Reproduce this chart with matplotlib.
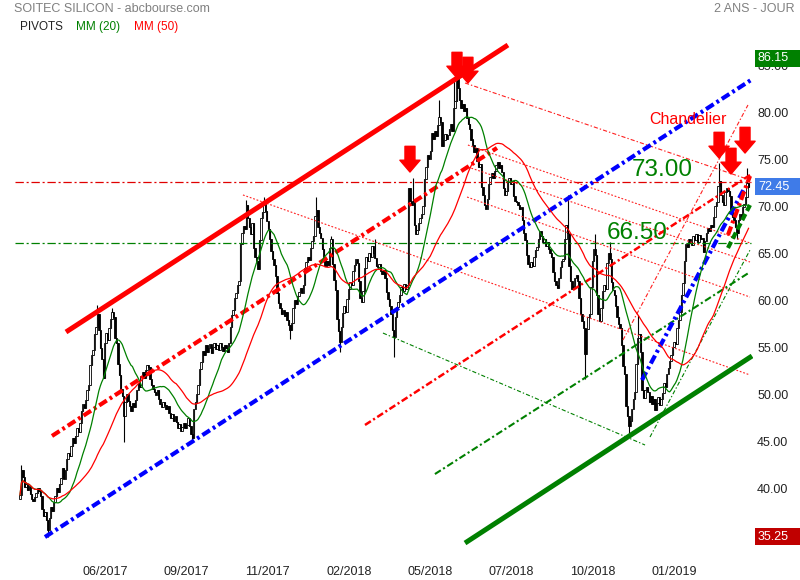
import numpy as np
import pandas as pd
import matplotlib
matplotlib.use('Agg')
import matplotlib.pyplot as plt
from matplotlib.patches import Rectangle
import matplotlib.transforms as mtransforms

plt.rcParams['font.family'] = ['Liberation Sans', 'DejaVu Sans']
plt.rcParams['lines.scale_dashes'] = False

# ---------------- data ----------------
title = 'SOITEC SILICON - abcbourse.com'
period_label = '2 ANS - JOUR'
legend_items = ['PIVOTS', 'MM (20)', 'MM (50)']

closes = [
    39.7, 42.3, 41.6, 40.5, 40.9, 40.2, 40.6, 39.8, 39.3, 39.0,
    39.5, 39.9, 40.4, 40.1, 39.6, 38.2, 37.5, 37.9, 37.0, 36.0,
    37.2, 38.4, 38.0, 38.9, 39.6, 40.4, 40.0, 40.8, 41.5, 42.6,
    41.4, 42.3, 43.5, 44.2, 43.8, 44.9, 45.7, 45.2, 46.0, 46.8,
    46.4, 47.3, 48.6, 49.4, 48.9, 49.8, 50.9, 51.4, 53.5, 54.6,
    55.1, 56.8, 57.6, 58.9, 57.2, 55.3, 54.2, 52.1, 55.8, 56.9,
    56.2, 57.5, 58.4, 59.1, 58.6, 56.4, 55.9, 53.6, 52.4, 51.0,
    50.2, 48.1, 49.6, 50.4, 49.7, 49.2, 48.6, 49.5, 49.0, 49.8,
    50.9, 51.6, 51.2, 52.3, 52.8, 52.1, 53.0, 53.5, 53.3, 52.0,
    51.4, 51.0, 50.6, 50.3, 50.8, 49.9, 49.4, 49.0, 49.6, 49.3,
    48.8, 49.2, 48.4, 47.9, 48.3, 47.6, 48.1, 47.5, 46.8, 47.2,
    46.5, 46.9, 47.3, 46.8, 47.1, 47.9, 47.0, 46.2, 45.7, 48.8,
    49.6, 50.4, 51.4, 53.1, 53.8, 55.0, 54.6, 55.6, 54.9, 55.3,
    55.7, 54.8, 55.4, 55.9, 55.2, 55.6, 55.1, 55.8, 55.4, 55.0,
    55.6, 55.3, 54.9, 55.9, 57.6, 58.8, 59.4, 60.6, 61.2, 62.0,
    62.5, 66.4, 67.6, 68.3, 68.0, 70.5, 69.1, 68.2, 67.5, 68.6,
    66.0, 65.0, 64.6, 63.7, 66.8, 69.2, 69.8, 70.6, 69.9, 68.8,
    68.0, 66.9, 65.6, 64.8, 64.2, 63.0, 61.2, 60.1, 59.6, 58.9,
    59.4, 58.7, 59.1, 58.3, 57.8, 57.2, 58.0, 59.6, 60.4, 60.0,
    60.9, 61.3, 61.7, 61.2, 62.0, 63.8, 64.5, 65.0, 64.7, 66.0,
    66.7, 67.2, 69.4, 70.0, 68.2, 67.6, 67.0, 65.8, 64.9, 64.0,
    64.6, 64.2, 66.0, 66.9, 64.3, 62.6, 61.5, 58.4, 57.1, 56.0,
    57.6, 59.0, 59.8, 59.2, 60.5, 61.6, 62.3, 62.0, 63.5, 64.2,
    64.8, 64.4, 62.5, 60.6, 60.2, 61.4, 63.8, 65.0, 64.6, 65.4,
    65.0, 66.2, 65.4, 64.9, 64.0, 63.9, 64.3, 63.5, 63.2, 63.6,
    62.8, 61.3, 60.5, 59.8, 58.9, 57.2, 56.5, 58.6, 59.7, 60.2,
    61.0, 61.8, 61.4, 62.1, 61.6, 62.0, 72.3, 71.0, 70.5, 70.9,
    68.4, 67.5, 67.9, 68.6, 69.2, 69.6, 70.4, 73.3, 74.6, 75.8,
    75.4, 76.3, 78.2, 77.6, 78.4, 77.9, 79.0, 79.9, 79.4, 76.8,
    77.5, 78.1, 77.6, 78.0, 78.6, 79.1, 78.4, 80.8, 81.6, 84.2,
    83.0, 81.7, 80.9, 81.3, 80.5, 80.9, 79.8, 79.2, 78.6, 77.5,
    76.9, 76.2, 76.6, 75.2, 74.6, 74.9, 72.4, 71.6, 70.5, 70.1,
    71.2, 72.8, 73.5, 73.9, 73.4, 74.2, 74.8, 75.1, 74.5, 74.8,
    74.0, 72.3, 71.6, 72.0, 73.0, 73.4, 72.8, 73.1, 71.5, 71.0,
    70.8, 70.5, 70.1, 70.3, 68.9, 67.6, 66.8, 65.2, 64.3, 63.9,
    64.5, 64.0, 65.0, 65.7, 66.1, 66.9, 67.8, 67.2, 66.6, 66.9,
    66.2, 66.6, 65.8, 65.4, 65.0, 63.4, 62.5, 62.0, 61.7, 62.8,
    63.9, 64.6, 64.8, 66.9, 68.4, 67.6, 64.0, 62.4, 61.6, 61.9,
    62.8, 63.1, 62.4, 60.6, 58.9, 58.2, 57.5, 54.7, 57.3, 58.6,
    58.9, 61.8, 64.6, 65.9, 65.2, 61.0, 58.9, 58.2, 59.6, 61.4,
    62.0, 61.6, 64.4, 65.4, 64.8, 62.3, 61.5, 61.0, 59.8, 58.6,
    57.9, 57.5, 55.6, 53.4, 52.6, 49.2, 48.1, 47.0, 47.6, 48.8,
    49.9, 50.6, 53.6, 56.4, 56.8, 54.9, 50.8, 50.0, 50.9, 51.2,
    50.6, 49.6, 50.2, 49.4, 49.9, 48.7, 49.5, 50.1, 49.3, 49.9,
    50.5, 51.6, 51.2, 52.6, 53.2, 53.9, 54.6, 55.4, 56.0, 55.7,
    57.4, 58.3, 59.2, 61.0, 62.2, 64.6, 66.4, 66.1, 66.9, 66.6,
    66.3, 67.2, 66.8, 67.4, 66.6, 67.3, 66.9, 67.0, 65.5, 66.7,
    67.6, 68.1, 67.8, 68.4, 68.2, 69.3, 70.4, 70.9, 72.6, 73.1,
    71.6, 70.8, 70.5, 71.9, 72.3, 72.0, 71.5, 69.8, 69.3, 68.9,
    68.2, 67.6, 68.9, 69.6, 69.2, 70.3, 70.6, 71.4, 72.9, 72.45,
]
first_open = 39.3
wick_highs = {1: 42.9, 53: 59.9, 63: 59.6, 155: 71.1, 167: 71.4, 203: 71.4,
              213: 67.2, 243: 66.9, 269: 73.4, 287: 81.7, 297: 83.9, 299: 86.15,
              375: 71.6, 394: 67.4, 404: 66.6, 423: 58.8, 479: 75.0, 498: 74.5}
wick_lows = {19: 35.25, 71: 45.3, 118: 45.4, 185: 56.3, 219: 54.9, 256: 54.4,
             387: 52.0, 417: 45.9, 491: 66.9}

period_high = 86.15
period_low = 35.25
last_close = 72.45

x_tick_labels = ['06/2017', '09/2017', '11/2017', '02/2018',
                 '05/2018', '07/2018', '10/2018', '01/2019']
y_ticks = [40, 45, 50, 55, 60, 65, 70, 75, 80, 85]

pivot_levels = [73.00, 66.50]
pivot_texts = ['73.00', '66.50']
pivot_text_pos = [(439.7, 74.26), (422.6, 67.55)]
chandelier_text = 'Chandelier'
chandelier_pos = (457.5, 79.6)

# trend lines: (bar, price) anchors
red_channel_top = [(31.5, 57.02), (334.2, 87.55)]
red_channel_mid = [(21.9, 45.96), (326.7, 76.60)]
blue_channel_low = [(17.1, 35.21), (500.7, 83.83)]
green_support = [(304.8, 34.57), (501.4, 54.47)]
blue_steep = [(426.0, 51.91), (496.6, 72.45)]
red_short = [(484.9, 67.34), (500.0, 73.62)]
green_short = [(484.9, 65.96), (500.0, 70.53)]
red_rising = [(236.3, 47.13), (500.0, 73.72)]
red_fan_a = [(304.8, 83.51), (500.0, 73.19)]
red_fan_b = [(152.7, 71.60), (500.0, 52.45)]
red_fan_c = [(306.8, 76.91), (500.0, 66.49)]
red_fan_d = [(306.2, 71.38), (500.0, 60.74)]
red_fan_e = [(306.8, 74.57), (500.0, 64.47)]
red_chandelier = [(413.0, 56.17), (498.6, 81.17)]
green_falling = [(248.6, 56.91), (428.1, 45.00)]
green_rising = [(284.2, 41.91), (500.0, 63.40)]
green_steep = [(431.5, 45.85), (500.0, 65.74)]

arrow_bars = [267.1, 299.3, 306.8, 478.8, 487.0, 496.6]
arrow_tips = [74.04, 84.04, 83.51, 75.53, 73.83, 76.06]

# ---------------- figure ----------------
W, H = 800, 580
fig = plt.figure(figsize=(W / 100, H / 100), dpi=100)
fig.patch.set_facecolor('white')
ax_l, ax_r, ax_t, ax_b = 12, 753, 40, 560
ax = fig.add_axes([ax_l / W, 1 - ax_b / H, (ax_r - ax_l) / W, (ax_b - ax_t) / H])
px_per_bar = 1.46
x0_px = 20
ax.set_xlim((ax_l - x0_px) / px_per_bar, (ax_r - x0_px) / px_per_bar)
ppu = 9.4
ax.set_ylim(80 - (ax_b - 116) / ppu, 80 + (116 - ax_t) / ppu)
for s in ax.spines.values():
    s.set_visible(False)

c = np.array(closes, dtype=float)
n = len(c)
idx = np.arange(n)
o = np.concatenate([[first_open], c[:-1]])
hi = np.maximum(o, c)
lo = np.minimum(o, c)
for k, v in wick_highs.items():
    hi[k] = max(hi[k], v)
for k, v in wick_lows.items():
    lo[k] = min(lo[k], v)

# candles
ax.vlines(idx, lo, hi, color='black', lw=0.8, zorder=2)
up = c >= o
body_h = np.maximum(np.abs(c - o), 0.08)
body_b = np.minimum(o, c)
ax.bar(idx[up], body_h[up], bottom=body_b[up], width=0.95,
       color='white', edgecolor='black', linewidth=0.6, zorder=2.1)
ax.bar(idx[~up], body_h[~up], bottom=body_b[~up], width=0.95,
       color='black', edgecolor='black', linewidth=0.6, zorder=2.1)

s = pd.Series(c)
ma20 = s.rolling(20, min_periods=1).mean()
ma50 = s.rolling(50, min_periods=1).mean()


def seg(pts, **kw):
    ax.plot([pts[0][0], pts[1][0]], [pts[0][1], pts[1][1]], **kw)


RED = '#ff0000'
GREEN = '#008000'
BLUE = '#0000ff'
# pivot horizontals
ax.plot([-3.4, 500.7], [pivot_levels[0]] * 2, color='#e00000', lw=0.9,
        dashes=(6, 2, 1.5, 2), zorder=3)
ax.plot([-3.4, 500.7], [pivot_levels[1]] * 2, color=GREEN, lw=0.9,
        dashes=(6, 2, 1.5, 2), zorder=3)

# thin fan lines
for L in [red_fan_b, red_fan_c, red_fan_d, red_fan_e]:
    seg(L, color='#ff2020', lw=0.8, dashes=(1.3, 1.3), zorder=3)
seg(red_fan_a, color='#ff2020', lw=0.8, dashes=(3, 1.5, 1, 1.5), zorder=3)
seg(red_chandelier, color='#ff2020', lw=0.8, dashes=(3, 1.5, 1, 1.5), zorder=3)
seg(green_falling, color=GREEN, lw=0.8, dashes=(3, 1.5, 1, 1.5), zorder=3)
seg(green_steep, color=GREEN, lw=0.8, dashes=(3, 1.5, 1, 1.5), zorder=3)
seg(green_rising, color=GREEN, lw=1.5, dashes=(5, 2, 1.5, 2), zorder=3)
seg(red_rising, color=RED, lw=1.8, dashes=(5, 2, 1.5, 2), zorder=3)

# thick channel lines
seg(red_channel_top, color=RED, lw=3.6, solid_capstyle='butt', zorder=3.5)
seg(green_support, color=GREEN, lw=3.6, solid_capstyle='butt', zorder=3.5)
seg(red_channel_mid, color=RED, lw=3.0, dashes=(6.5, 2.5, 2, 2.5), zorder=3.5)
seg(blue_channel_low, color=BLUE, lw=3.0, dashes=(6.5, 2.5, 2, 2.5), zorder=3.5)
seg(blue_steep, color=BLUE, lw=3.0, dashes=(6.5, 2.5, 2, 2.5), zorder=3.5)
seg(red_short, color=RED, lw=3.0, dashes=(6.5, 2.5, 2, 2.5), zorder=3.5)
seg(green_short, color=GREEN, lw=3.0, dashes=(5, 2.5), zorder=3.5)

# moving averages
ax.plot(idx, ma20, color=GREEN, lw=0.9, zorder=4)
ax.plot(idx, ma50, color=RED, lw=0.9, zorder=4)

# arrows
for b, p in zip(arrow_bars, arrow_tips):
    ax.annotate('', xy=(b, p), xytext=(0, 18.5), textcoords='offset points',
                arrowprops=dict(arrowstyle='simple,head_length=0.85,head_width=1.45,tail_width=0.72',
                                color=RED, mutation_scale=10, shrinkA=0, shrinkB=0),
                zorder=6)

# annotations
for t, (bx, py) in zip(pivot_texts, pivot_text_pos):
    ax.text(bx, py, t, color=GREEN, fontsize=17.5, ha='center', va='center', zorder=6)
ax.text(chandelier_pos[0], chandelier_pos[1], chandelier_text, color=RED,
        fontsize=11.5, ha='center', va='center', zorder=6)

# axes ticks
ax.yaxis.tick_right()
ax.set_yticks(y_ticks)
ax.set_yticklabels([f'{v:.2f}' for v in y_ticks])
tick_first, tick_step = 58.2, 55.7
ax.set_xticks(tick_first + tick_step * np.arange(len(x_tick_labels)))
ax.set_xticklabels(x_tick_labels)
ax.tick_params(axis='both', length=0, labelsize=9, colors='#222222')
ax.tick_params(axis='y', pad=3)
ax.tick_params(axis='x', pad=4)
shift_up = mtransforms.ScaledTranslation(0, 3.5 / 100, fig.dpi_scale_trans)
for lab in ax.get_yticklabels():
    lab.set_transform(lab.get_transform() + shift_up)

# value boxes on right
bt = mtransforms.blended_transform_factory(fig.transFigure, ax.transData)
for val, col in [(period_high, '#008000'), (last_close, '#3f7be8'), (period_low, '#c00000')]:
    hgt = 17 / ppu
    ax.add_patch(Rectangle((755 / W, val - hgt / 2), 45 / W, hgt, transform=bt,
                           facecolor=col, edgecolor='none', clip_on=False, zorder=10))
    ax.text(758 / W, val, f'{val:.2f}', transform=bt, color='white', fontsize=9,
            ha='left', va='center', zorder=11, clip_on=False)

# header
fig.text(14 / W, 1 - 9 / H, title, color='#808080', fontsize=9, ha='left', va='center')
fig.text(795 / W, 1 - 9 / H, period_label, color='#808080', fontsize=9, ha='right', va='center')
for t, xp, col in zip(legend_items, [20, 76, 134], ['#222222', GREEN, RED]):
    fig.text(xp / W, 1 - 27 / H, t, color=col, fontsize=8.5, ha='left', va='center')

fig.savefig('out.png', dpi=100, facecolor='white')
